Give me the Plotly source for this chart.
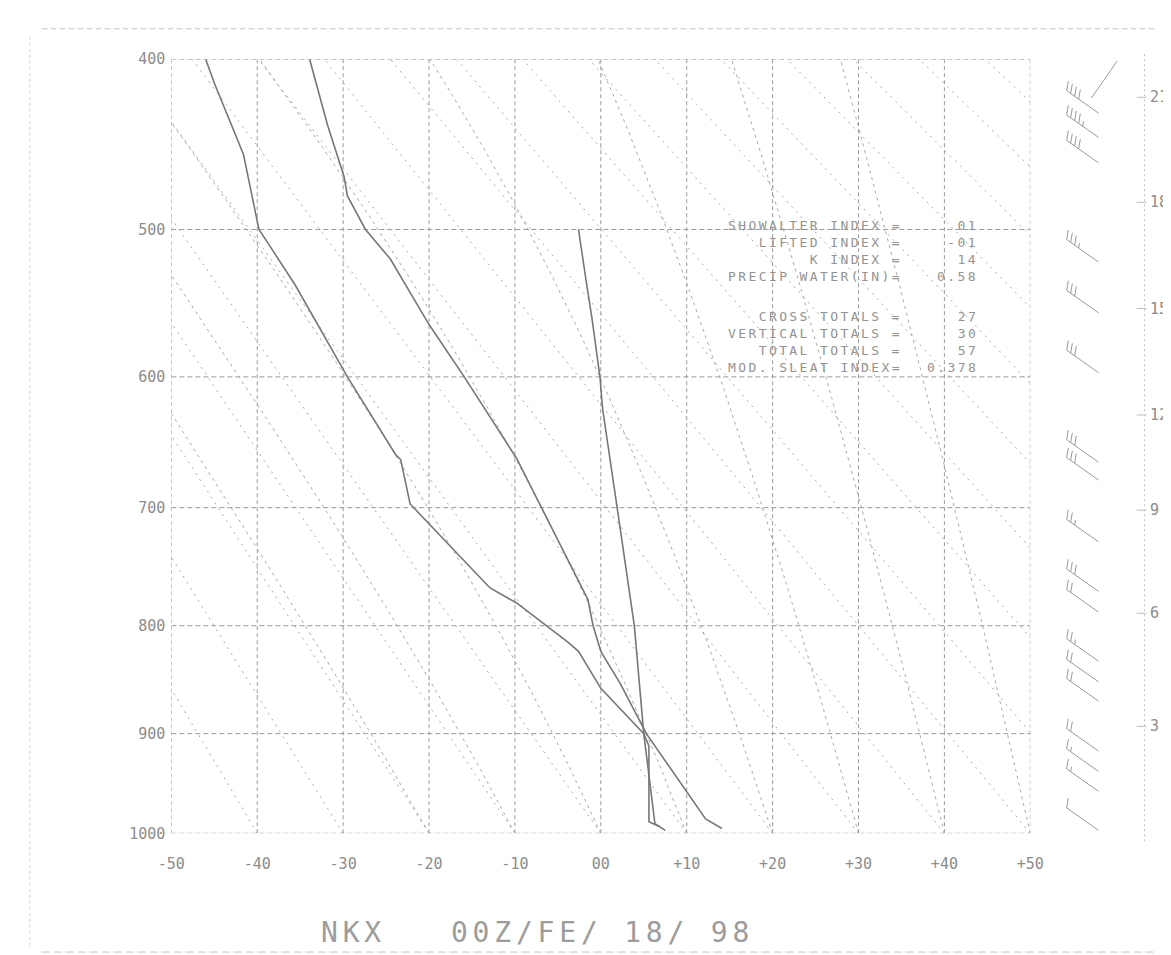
import numpy as np
import plotly.graph_objects as go

W, H = 1171, 955
KAP = 0.286

# ---------------- data ----------------
# temperature sounding (hPa, degC)
TEMP_P = [995, 985, 900, 853, 823, 800, 777, 700, 661, 600, 563, 519, 500, 479, 467, 437, 400]
TEMP_T = [14.1, 12.2, 5.3, 2.3, 0.0, -0.9, -1.5, -6.9, -9.8, -15.9, -20.0, -24.5, -27.4, -29.5, -29.9, -31.8, -33.9]
# dewpoint sounding
DEW_P = [993, 988, 912, 900, 857, 823, 815, 797, 780, 767, 726, 697, 662, 658, 600, 563, 536, 510, 500, 454, 431, 413, 400]
DEW_T = [6.8, 5.6, 5.6, 5.0, 0.0, -2.6, -3.8, -6.8, -9.8, -12.9, -18.3, -22.2, -23.3, -23.9, -29.5, -33.0, -35.6, -38.6, -39.8, -41.6, -43.5, -45.0, -46.0]
# mixing-ratio line through surface dewpoint
MIX_P = [997, 990, 900, 826, 800, 700, 623, 600, 560, 530, 500]
MIX_T = [7.5, 6.3, 5.0, 4.2, 3.9, 1.9, 0.2, -0.1, -1.0, -1.8, -2.6]

# background lines
ISOTHERMS = [-50, -40, -30, -20, -10, 0, 10, 20, 30, 40, 50]
ISOBARS = [400, 500, 600, 700, 800, 900, 1000]
THETA_DRY = [-40, -30, -20, -10, 0, 10, 20, 30, 40, 50, 60, 70, 80, 90, 100, 110, 120, 130, 140]
THETA_W = [-20, -10, 0, 10, 20, 30, 40, 50]

X_TICKTEXT = ["-50", "-40", "-30", "-20", "-10", "00", "+10", "+20", "+30", "+40", "+50"]
Y_TICKTEXT = ["400", "500", "600", "700", "800", "900", "1000"]

IDX_LABELS_1 = ["SHOWALTER INDEX =", "LIFTED INDEX =", "K INDEX =", "PRECIP WATER(IN)="]
IDX_VALUES_1 = ["01", "-01", "14", "0.58"]
IDX_LABELS_2 = ["CROSS TOTALS =", "VERTICAL TOTALS =", "TOTAL TOTALS =", "MOD. SLEAT INDEX="]
IDX_VALUES_2 = ["27", "30", "57", "0.378"]

# height scale (thousands of ft) and their pressure positions
HGT_LABELS = ["21", "18", "15", "12", "9", "6", "3"]
HGT_P = [421, 483, 552, 628, 702, 789, 893]

# wind barbs: pressure (hPa), direction (deg), speed (kt)
WIND_P = [401, 430, 444, 459, 521, 555, 597, 664, 678, 728, 770, 788, 832, 851, 869, 917, 937, 957, 997]
WIND_D = [215, 305, 305, 305, 305, 305, 305, 305, 305, 305, 305, 305, 305, 305, 305, 305, 305, 305, 305]
WIND_S = [0, 40, 45, 40, 35, 30, 30, 30, 30, 25, 30, 20, 25, 20, 20, 20, 15, 15, 10]

TITLE = "NKX   00Z/FE/ 18/ 98"

GRID = "#9a9a9a"
LINE = "#777777"
DOT = "#a8a8a8"
TXT = "#8c8c8c"
MONO = "DejaVu Sans Mono"


def yc(p):
    return np.power(np.asarray(p, dtype=float), KAP)


def moist_adiabat(tw_c, plev):
    Rd, cp, Lv, eps = 287.04, 1005.7, 2.501e6, 0.622

    def f(T, p):
        es = 6.112 * np.exp(17.67 * (T - 273.15) / (T - 29.65))
        rs = eps * es / (p - es)
        return (Rd * T + Lv * rs) / (p * (cp + Lv * Lv * rs * eps / (Rd * T * T)))
    T = tw_c + 273.15
    out = [T]
    for i in range(1, len(plev)):
        p0, p1 = plev[i - 1], plev[i]
        dp = p1 - p0
        k1 = f(T, p0)
        k2 = f(T + 0.5 * dp * k1, p0 + 0.5 * dp)
        k3 = f(T + 0.5 * dp * k2, p0 + 0.5 * dp)
        k4 = f(T + dp * k3, p1)
        T = T + dp * (k1 + 2 * k2 + 2 * k3 + k4) / 6
        out.append(T)
    return np.array(out) - 273.15


fig = go.Figure()

# isotherms / isobars (dashed grid)
for t in ISOTHERMS:
    fig.add_trace(go.Scatter(x=[t, t], y=yc([400, 1000]), mode="lines",
                             line=dict(color=GRID, width=1, dash="4px,3px"), hoverinfo="skip", showlegend=False))
for p in ISOBARS:
    fig.add_trace(go.Scatter(x=[-50, 50], y=yc([p, p]), mode="lines",
                             line=dict(color=GRID, width=1, dash="5px,3px"), hoverinfo="skip", showlegend=False))

plev = np.arange(1000, 399, -5)
for th in THETA_DRY:
    tt = (th + 273.15) * np.power(plev / 1000.0, KAP) - 273.15
    fig.add_trace(go.Scatter(x=tt, y=yc(plev), mode="lines",
                             line=dict(color=DOT, width=1, dash="2px,5px"), hoverinfo="skip", showlegend=False))
for tw in THETA_W:
    tt = moist_adiabat(tw, plev)
    fig.add_trace(go.Scatter(x=tt, y=yc(plev), mode="lines",
                             line=dict(color=DOT, width=1, dash="3px,4px"), hoverinfo="skip", showlegend=False))

# sounding
for xs, ps in ((TEMP_T, TEMP_P), (DEW_T, DEW_P), (MIX_T, MIX_P)):
    fig.add_trace(go.Scatter(x=xs, y=yc(ps), mode="lines",
                             line=dict(color=LINE, width=1.6), hoverinfo="skip", showlegend=False))

# wind barbs on x2 (pixel units) sharing the pressure axis
PXU = 789.0 / (1000 ** KAP - 400 ** KAP)  # pixels per y unit
bx, by = [], []
L = 40.0
for p, d, s in zip(WIND_P, WIND_D, WIND_S):
    y0 = float(yc(p))
    r = np.deg2rad(d)
    ux, uy = np.sin(r), np.cos(r)            # station -> tail (screen up positive)
    fr = r + np.deg2rad(65)
    vx, vy = np.sin(fr), np.cos(fr)          # feather direction
    x0 = 63.0 if d != 215 else 82.0
    LL = L if d != 215 else 46.0
    bx += [x0, x0 + LL * ux, None]
    by += [y0, y0 - LL * uy / PXU, None]
    rem = s
    k = 0
    while rem >= 5:
        dd = L - k * 5.0
        cx, cy = x0 + dd * ux, dd * uy
        blen = 10.0 if rem >= 10 else 5.0
        bx += [cx, cx + blen * vx, None]
        by += [y0 - cy / PXU, y0 - (cy + blen * vy) / PXU, None]
        rem -= 10 if rem >= 10 else 5
        k += 1
fig.add_trace(go.Scatter(x=bx, y=by, xaxis="x2", yaxis="y", mode="lines",
                         line=dict(color="#9a9a9a", width=1), hoverinfo="skip", showlegend=False))

fx0, fx1 = 153 / W, 1033 / W
fy0, fy1 = 1 - 832 / H, 1 - 43 / H

fig.update_layout(
    width=W, height=H, margin=dict(l=0, r=0, t=0, b=0),
    paper_bgcolor="white", plot_bgcolor="white", showlegend=False,
    xaxis=dict(domain=[fx0, fx1], range=[-50, 50], showgrid=False, zeroline=False,
               tickmode="array", tickvals=ISOTHERMS, ticktext=X_TICKTEXT, ticks="",
               tickfont=dict(family=MONO, size=15, color=TXT), ticklabelstandoff=20,
               showline=False),
    yaxis=dict(domain=[fy0, fy1], range=[float(yc(1000)), float(yc(400))], showgrid=False, zeroline=False,
               tickmode="array", tickvals=[float(v) for v in yc(ISOBARS)], ticktext=Y_TICKTEXT, ticks="",
               tickfont=dict(family=MONO, size=15, color=TXT), ticklabelstandoff=5,
               showline=False),
    xaxis2=dict(domain=[1040 / W, 1140 / W], range=[0, 100], anchor="y", visible=False, showgrid=False),
)

ann = []


def px(x):
    return x / W


def py(y):
    return 1 - y / H


def block(lines):
    return "<br>".join('<span style="letter-spacing:2.4px">' + s + "</span>" for s in lines)


IDX_FONT = dict(family=MONO, size=13, color="#939393")
for labs, vals, yy in ((IDX_LABELS_1, IDX_VALUES_1, 238.5), (IDX_LABELS_2, IDX_VALUES_2, 331.5)):
    ann.append(dict(x=px(904), y=py(yy), xref="paper", yref="paper", text=block(labs), showarrow=False,
                    xanchor="right", yanchor="middle", align="right", font=IDX_FONT))
    ann.append(dict(x=px(981), y=py(yy), xref="paper", yref="paper", text=block(vals), showarrow=False,
                    xanchor="right", yanchor="middle", align="right", font=IDX_FONT))

for lab, p in zip(HGT_LABELS, HGT_P):
    ann.append(dict(x=px(1154), y=float(yc(p)), xref="paper", yref="y", text=lab, showarrow=False,
                    xanchor="left", yanchor="middle", font=dict(family=MONO, size=15, color=TXT)))

ann.append(dict(x=px(304), y=py(933), xref="paper", yref="paper",
                text='<span style="letter-spacing:4.8px">' + TITLE + '</span>', showarrow=False,
                xanchor="left", yanchor="middle", font=dict(family=MONO, size=28, color="#9c9c9c")))
fig.update_layout(annotations=ann)

shapes = []
# scan border lines
shapes.append(dict(type="line", xref="paper", yref="paper", x0=px(20), x1=px(1160), y0=py(12), y1=py(12),
                   line=dict(color="#c8c8c8", width=1, dash="6px,3px")))
shapes.append(dict(type="line", xref="paper", yref="paper", x0=px(8), x1=px(8), y0=py(20), y1=py(950),
                   line=dict(color="#d5d5d5", width=1, dash="3px,3px")))
shapes.append(dict(type="line", xref="paper", yref="paper", x0=px(20), x1=px(1160), y0=py(953), y1=py(953),
                   line=dict(color="#c8c8c8", width=1, dash="8px,4px")))
# height scale axis
shapes.append(dict(type="line", xref="paper", yref="paper", x0=px(1150), x1=px(1150), y0=py(38), y1=py(843),
                   line=dict(color="#c0c0c0", width=1, dash="2px,3px")))
for p in HGT_P:
    yy = float(yc(p))
    shapes.append(dict(type="line", xref="paper", yref="y", x0=px(1142), x1=px(1152), y0=yy, y1=yy,
                       line=dict(color="#c0c0c0", width=1)))
fig.update_layout(shapes=shapes)

fig.write_html("out.html")
